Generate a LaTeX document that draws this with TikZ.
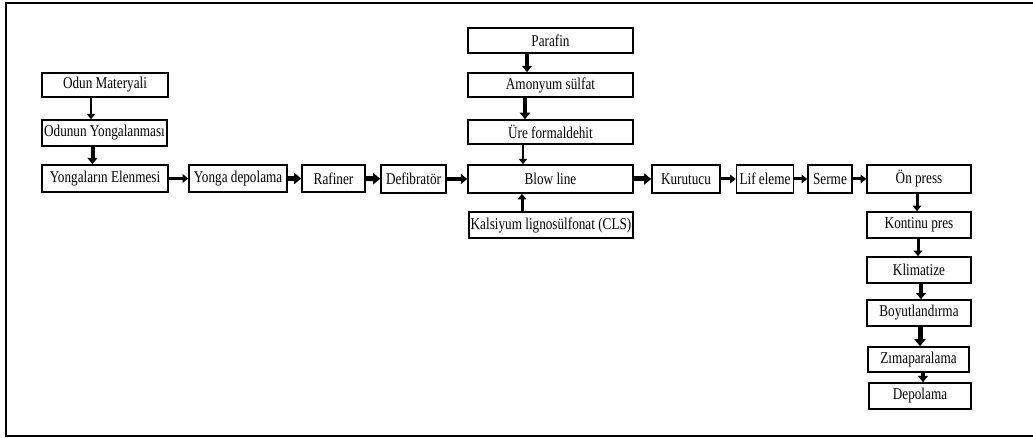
\documentclass[tikz,border=0pt]{standalone}
\usepackage{fontspec}
\setmainfont{Liberation Serif}[FakeStretch=0.8]
\usetikzlibrary{arrows.meta}
\begin{document}
\begin{tikzpicture}[x=1pt,y=-1pt,
  box/.style={draw=black,line width=1.6pt,inner sep=0pt,font=\fontsize{16.5}{18}\selectfont,text=black},
  arr/.style={line width=3pt,-{Triangle[length=3.5pt 0.7,width=5pt 1.2]}},
  thin/.style={line width=2.5pt},
  mid/.style={line width=4pt},
  fat/.style={line width=5pt}]
\useasboundingbox (0,0) rectangle (1033,438);
\draw[line width=2pt] (1033,3) -- (6,3) -- (6,436) -- (1033,436);
% boxes
\node[box,minimum width=126,minimum height=24] (om) at (105,85) {Odun Materyali};
\node[box,minimum width=125,minimum height=26] (oy) at (104.5,133) {Odunun Yongalanması};
\node[box,minimum width=126,minimum height=27] (ye) at (105,178.5) {Yongaların Elenmesi};
\node[box,minimum width=98,minimum height=27] (yd) at (238,178.5) {Yonga depolama};
\node[box,minimum width=63,minimum height=27] (raf) at (333.5,178.5) {Rafiner};
\node[box,minimum width=65,minimum height=28] (def) at (413.5,179) {Defibratör};
\node[box,minimum width=165,minimum height=28] (blow) at (550.5,179) {Blow line};
\node[box,minimum width=165,minimum height=25] (par) at (550.5,40.5) {Parafin};
\node[box,minimum width=165,minimum height=24] (amo) at (550.5,85) {Amonyum sülfat};
\node[box,minimum width=165,minimum height=24] (ure) at (550.5,132) {Üre formaldehit};
\node[box,minimum width=164,minimum height=26] (cls) at (551,225) {Kalsiyum lignosülfonat (CLS)};
\node[box,minimum width=68,minimum height=28] (kur) at (686,179) {Kurutucu};
\node[box,minimum width=57,minimum height=28] (lif) at (765,179) {Lif eleme};
\node[box,minimum width=44,minimum height=28] (ser) at (830,179) {Serme};
\node[box,minimum width=104,minimum height=28] (on) at (919,179) {Ön press};
\node[box,minimum width=104,minimum height=26] (kon) at (919,225) {Kontinu pres};
\node[box,minimum width=104,minimum height=26] (kli) at (919,270) {Klimatize};
\node[box,minimum width=104,minimum height=26] (boy) at (919,313) {Boyutlandırma};
\node[box,minimum width=101,minimum height=25] (zim) at (918.5,359.5) {Zımaparalama};
\node[box,minimum width=102,minimum height=26] (dep) at (920,396) {Depolama};
% arrows left column
\draw[arr,thin] ([xshift=-14pt]om.south) -- ([xshift=-14pt]om.south |- oy.north);
\draw[arr,mid] ([xshift=-12pt]oy.south) -- ([xshift=-12pt]oy.south |- ye.north);
% main row
\draw[arr] (ye) -- (yd);
\draw[arr,fat] (yd) -- (raf);
\draw[arr,fat] (raf) -- (def);
\draw[arr,mid] (def) -- (blow);
\draw[arr,fat] (blow) -- (kur);
\draw[arr] (kur) -- (lif);
\draw[arr] (lif) -- (ser);
\draw[arr] (ser) -- (on);
% additives
\draw[arr,mid] ([xshift=-23.5pt]par.south) -- ([xshift=-23.5pt]par.south |- amo.north);
\draw[arr,line width=4.5pt] ([xshift=-25.5pt]amo.south) -- ([xshift=-25.5pt]amo.south |- ure.north);
\draw[arr,thin] ([xshift=-27.5pt]ure.south) -- ([xshift=-27.5pt]ure.south |- blow.north);
\draw[arr] ([xshift=-29pt]cls.north) -- ([xshift=-29pt]cls.north |- blow.south);
% right column
\draw[arr] ([xshift=-2pt]on.south) -- ([xshift=-2pt]on.south |- kon.north);
\draw[arr] ([xshift=-1pt]kon.south) -- ([xshift=-1pt]kon.south |- kli.north);
\draw[arr,mid] ([xshift=2pt]kli.south) -- ([xshift=2pt]kli.south |- boy.north);
\draw[arr,fat] ([xshift=1pt]boy.south) -- ([xshift=1pt]boy.south |- zim.north);
\draw[arr,mid] ([xshift=4.5pt]zim.south) -- ([xshift=4.5pt]zim.south |- dep.north);
\end{tikzpicture}
\end{document}
